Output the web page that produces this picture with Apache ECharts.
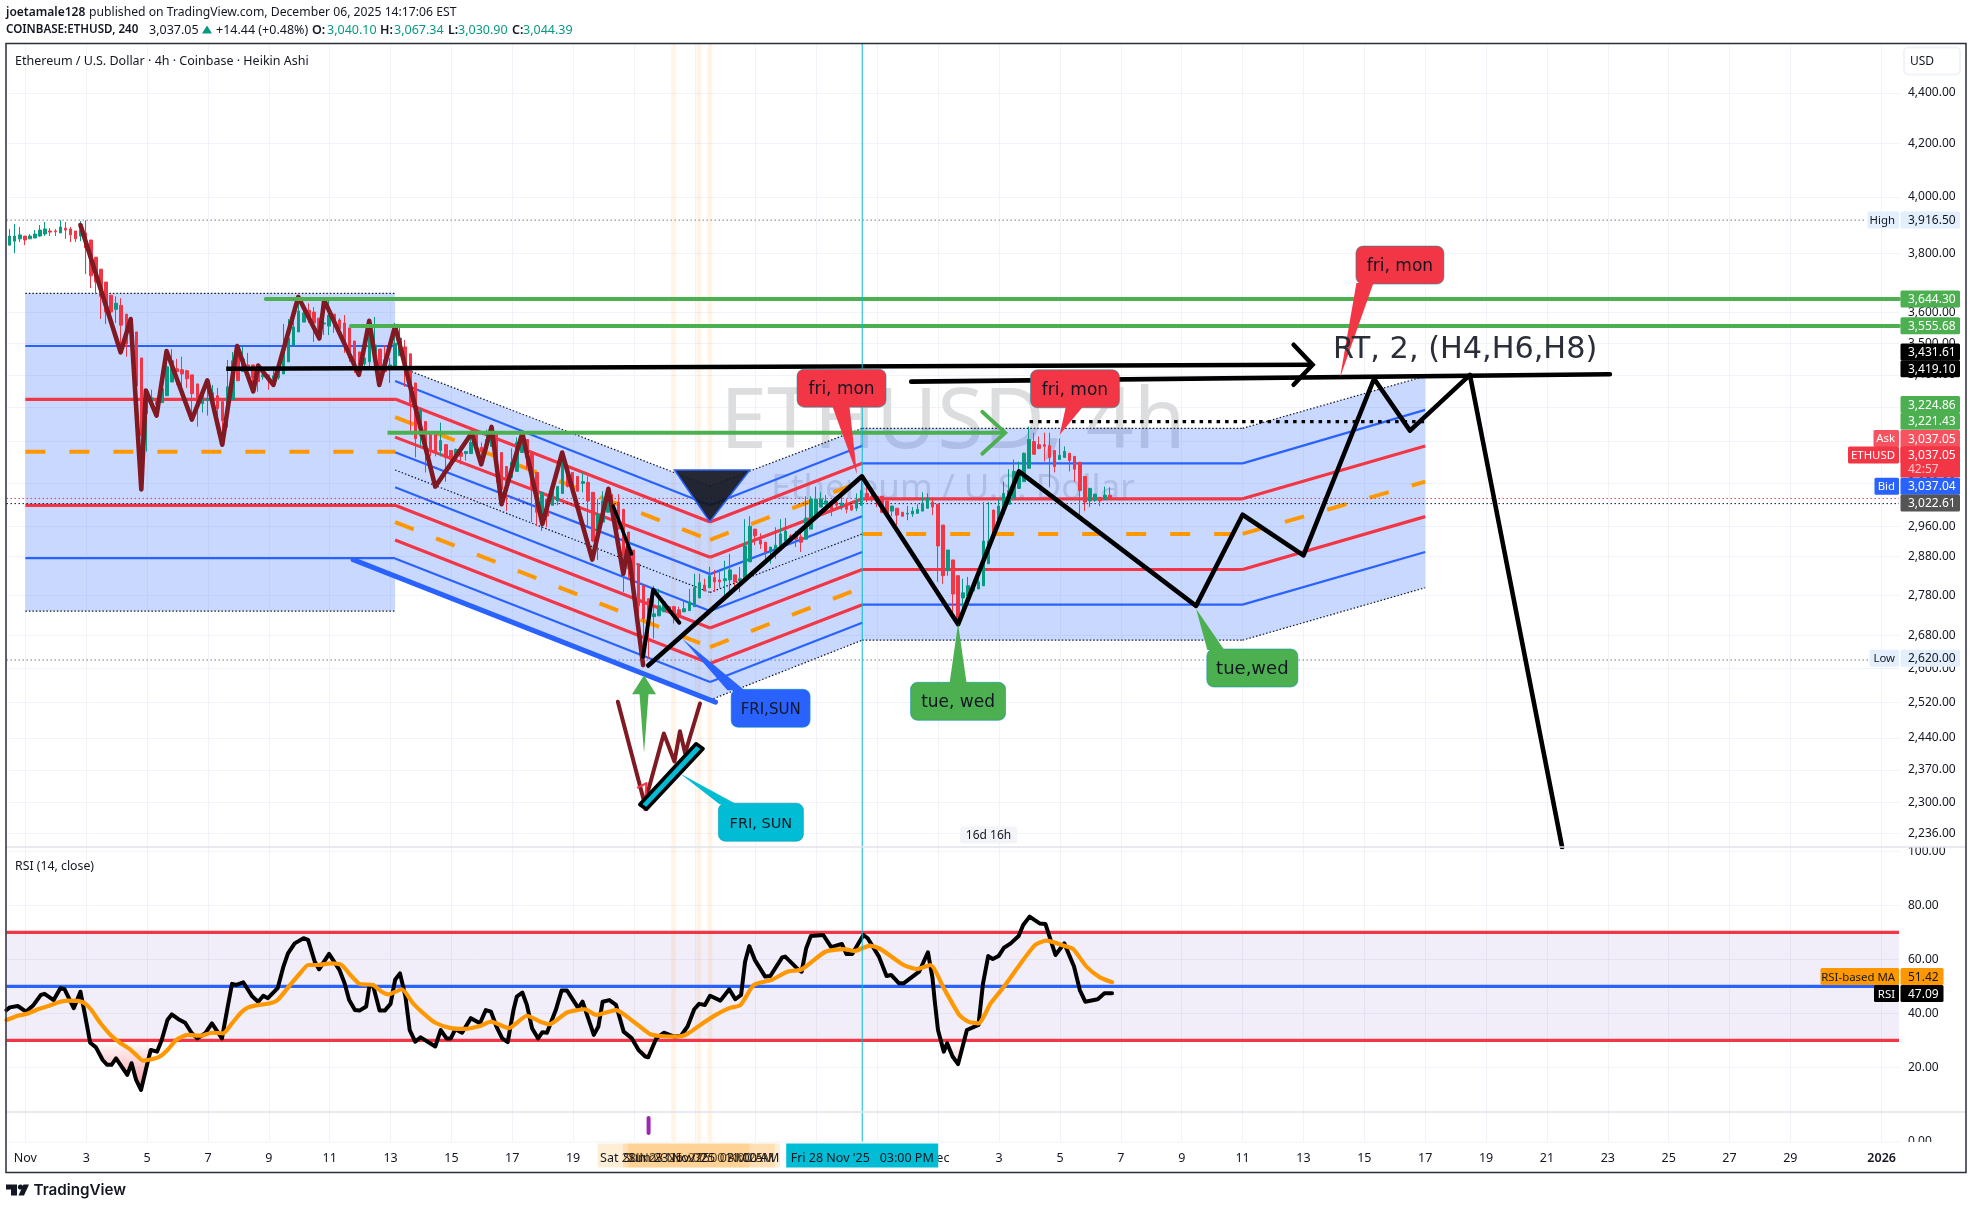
<!DOCTYPE html>
<html>
<head>
<meta charset="utf-8">
<title>ETHUSD 4h</title>
<script src="https://cdn.jsdelivr.net/npm/echarts@6/dist/echarts.min.js"></script>
<style>
  html, body { margin: 0; padding: 0; background: #fff; }
  #chart { width: 1972px; height: 1208px; }
</style>
</head>
<body>
<div id="chart"></div>
<script>
// ---- candles (heikin ashi, one bar every 4h) ----
var firstBarDay = -0.517; // days since 1 Nov
var barOpen = [
  3828,3842,3850,3860,3850,3853,3860,3867,3878,3878,
  3871,3888,3885,3878,3860,3871,3846,3786,3745,3701,
  3657,3610,3623,3594,3520,3536,3453,3282,3306,3321,
  3315,3336,3378,3419,3416,3413,3400,3372,3312,3321,
  3321,3336,3318,3294,3324,3484,3410,3431,3431,3419,
  3394,3400,3388,3391,3403,3441,3494,3536,3568,3607,
  3601,3581,3562,3555,3594,3575,3565,3549,3507,3472,
  3434,3441,3469,3481,3447,3422,3425,3460,3488,3466,
  3375,3216,3258,3228,3228,3173,3190,3173,3156,3167,
  3164,3164,3219,3182,3176,3185,3222,3167,3127,3096,
  3113,3167,3205,3167,3110,2988,3035,3018,3030,3051,
  3130,3110,3099,3079,3082,3054,2948,2972,2999,3021,
  3027,3007,2945,2897,2861,2804,2771,2726,2728,2738,
  2751,2751,2743,2738,2741,2751,2773,2806,2799,2825,
  2819,2817,2819,2832,2817,2822,2866,2953,2924,2918,
  2892,2897,2908,2921,2935,2937,2932,2926,2953,2988,
  3013,3021,3027,3027,3016,3024,3018,3010,3018,3051,
  3043,3043,3043,3030,3002,3010,2999,2994,2994,2996,
  3002,3010,3027,3021,2964,2843,2871,2830,2773,2778,
  2791,2796,2804,2861,3005,2972,2994,3021,3037,3065,
  3084,3122,3199,3190,3190,3187,3173,3147,3153,3165,
  3156,3139,3099,3030,3032,3040,3035,3046
];
var barClose = [
  3860,3860,3864,3846,3860,3867,3881,3885,3874,3875,
  3892,3881,3864,3850,3881,3818,3722,3701,3653,3601,
  3601,3630,3558,3497,3549,3366,3216,3336,3330,3309,
  3357,3425,3444,3410,3403,3388,3342,3306,3339,3327,
  3345,3297,3261,3363,3444,3382,3450,3425,3391,3379,
  3400,3382,3397,3416,3481,3516,3552,3604,3598,3585,
  3565,3536,3565,3591,3565,3546,3494,3453,3431,3431,
  3453,3568,3494,3391,3410,3431,3500,3516,3425,3315,
  3207,3294,3190,3170,3170,3202,3153,3147,3176,3156,
  3170,3196,3182,3170,3205,3228,3139,3062,3070,3139,
  3196,3211,3153,3070,2999,3054,2988,3070,3070,3139,
  3070,3062,3057,3084,3030,2921,2994,3030,3062,2994,
  2953,2882,2848,2771,2753,2721,2704,2733,2753,2763,
  2738,2726,2728,2746,2763,2799,2812,2791,2830,2814,
  2814,2822,2845,2814,2822,2908,2961,2935,2913,2892,
  2905,2910,2940,2948,2932,2926,2918,2983,3035,3035,
  3035,3030,3007,3018,3024,3007,3005,3027,3059,3040,
  3037,3030,2999,2988,3016,2991,2988,2996,3002,3007,
  3024,3038,3013,2908,2830,2897,2783,2721,2786,2804,
  2809,2814,2921,2921,2935,3016,3051,3059,3113,3113,
  3165,3205,3162,3179,3185,3153,3127,3159,3170,3144,
  3119,3059,3027,3065,3049,3030,3046,3037
];
var barLow = [
  3828,3800,3839,3828,3850,3853,3857,3860,3860,3860,
  3871,3850,3839,3839,3842,3728,3681,3660,3578,3562,
  3585,3565,3494,3457,3472,3339,3059,3170,3306,3279,
  3315,3336,3378,3369,3363,3360,3282,3243,3285,3276,
  3300,3222,3190,3240,3324,3382,3410,3391,3348,3348,
  3385,3354,3366,3385,3403,3441,3494,3536,3568,3565,
  3504,3510,3526,3526,3533,3526,3469,3441,3406,3400,
  3425,3425,3431,3369,3406,3375,3425,3460,3363,3228,
  3153,3185,3110,3156,3156,3156,3084,3119,3153,3133,
  3144,3164,3182,3133,3176,3185,3082,3021,3002,3096,
  3113,3167,3119,2972,2961,2948,2958,3018,3018,3051,
  3068,3062,3057,3054,2961,2918,2871,2972,2999,2988,
  2953,2788,2822,2751,2728,2629,2624,2672,2728,2738,
  2738,2709,2709,2738,2741,2751,2773,2791,2799,2788,
  2799,2766,2788,2796,2788,2822,2866,2910,2900,2869,
  2861,2874,2908,2921,2918,2905,2892,2926,2953,2988,
  3013,3021,2988,3005,3005,2996,3002,3002,3018,3027,
  3027,3013,2996,2988,2988,2964,2988,2977,2986,2996,
  3002,3010,2991,2814,2809,2830,2733,2714,2741,2778,
  2791,2796,2804,2861,2935,2972,2994,3021,3037,3065,
  3084,3122,3162,3176,3141,3068,3110,3147,3153,3113,
  3084,2988,3002,3013,3027,3016,3035,3035
];
var barHigh = [
  3885,3903,3892,3860,3867,3881,3899,3910,3888,3885,
  3916,3910,3892,3878,3913,3916,3846,3786,3745,3701,
  3657,3653,3647,3594,3585,3536,3453,3354,3354,3321,
  3400,3463,3481,3450,3457,3416,3400,3372,3339,3369,
  3369,3360,3318,3447,3472,3484,3488,3469,3431,3431,
  3416,3400,3425,3431,3562,3578,3607,3657,3630,3630,
  3617,3581,3633,3647,3594,3581,3591,3549,3507,3472,
  3453,3575,3585,3481,3494,3453,3565,3549,3510,3466,
  3375,3294,3258,3228,3228,3255,3190,3173,3179,3167,
  3170,3228,3228,3196,3234,3243,3222,3167,3127,3179,
  3211,3234,3205,3167,3110,3054,3035,3070,3070,3167,
  3130,3110,3099,3110,3099,3054,3035,3057,3062,3049,
  3049,3007,2945,2897,2861,2804,2771,2804,2796,2763,
  2751,2753,2751,2766,2796,2835,2835,2822,2853,2845,
  2845,2869,2887,2832,2853,2980,2988,2953,2942,2918,
  2905,2958,2980,2983,2940,2948,2956,3043,3043,3070,
  3054,3046,3027,3040,3043,3035,3018,3051,3099,3076,
  3068,3043,3043,3030,3016,3010,2999,3016,3013,3021,
  3054,3051,3040,3021,2964,2897,2871,2830,2822,2827,
  2809,2827,3027,3027,3005,3035,3084,3119,3147,3141,
  3167,3243,3225,3214,3225,3225,3173,3208,3185,3165,
  3156,3139,3099,3065,3049,3040,3070,3068
];

// ---- axes ----
var xMin = -0.62, xMax = 61.57;
var xTickDays = [0,2,4,6,8,10,12,14,16,18,20,22,24,26,28,30,32,34,36,38,40,42,44,46,48,50,52,54,56,58,61];
var xTickLabels = ['Nov','3','5','7','9','11','13','15','17','19','21','23','25','27','29','Dec','3','5','7','9','11','13','15','17','19','21','23','25','27','29','2026'];
var priceTicks = [4400,4200,4000,3800,3600,3500,3400,3300,3200,3080,2960,2880,2780,2680,2600,2520,2440,2370,2300,2236];
var rsiTicks = [0,20,40,60,80,100];

// ---- price levels ----
var highPrice = 3916.5, highLineEnd = 60.5;
var lowPrice = 2620, lowLineEnd = 60.6;
var lastPrice = 3037.05, prevClose = 3022.61;
var greenLevel1 = 3644.30, greenLevel1Day = 7.9;
var greenLevel2 = 3555.68, greenLevel2Day = 10.7;

// ---- fib channel drawing ----
var rectDays = [0, 12.15];
var rectLevels = [3663,3491,3325,3169,3018,2876,2740];
var fallDays = [12.15, 22.5];
var fallStart = [3430,3381,3326,3271,3212,3168,3117,3068,3018,2972,2924,2875,2832];
var fallEnd = [3071,3018,2972,2924,2878,2834,2787,2740,2698,2651,2612,2568,2526];
var riseDays = [22.5, 27.5];
var riseEnd = [3238,3187,3136,3085,3036,2988,2940,2892,2846,2800,2756,2711,2668];
var flatDays = [27.5, 40];
var flatLevels = [3238,3136,3036,2940,2846,2756,2668];
var rise2Days = [40, 46];
var rise2End = [3396,3293,3186,3084,2987,2892,2799];

// ---- hand drawn lines ----
var zigDays = [1.81,3.13,3.46,3.81,3.96,4.31,4.64,5.47,5.98,6.47,6.96,7.49,7.65,8.15,8.97,9.66,9.82,10.96,11.3,11.63,12.15,13.47,14.67,14.98,15.32,15.65,16.33,16.99,17.64,18.63,19.16,19.65,19.8,20.3];
var zigPrices = [3899,3471,3578,3062,3352,3276,3475,3264,3383,3190,3491,3349,3429,3369,3651,3515,3640,3400,3572,3369,3555,3070,3224,3133,3242,3021,3224,2967,3167,2872,3064,2835,2905,2608];
var miniDays = [19.47,20.35,20.98,21.33,21.51,21.68,22.17];
var miniPrices = [2522,2298,2450,2388,2455,2406,2518];
var hookDays = [20.13,20.41,20.35];
var hookPrices = [2332,2341,2284];
var blackDays = [20.47,27.49,30.65,32.65,38.47,40,42,44.32,45.5,47.47,50.5];
var blackPrices = [2607,3099,2707,3113,2753,2992,2883,3388,3231,3400,2208];
var shortDays = [20.3,20.63,21.49];
var shortPrices = [2628,2794,2711];
var shortBDays = [19.32,19.92];
var shortBPrices = [3016,2887];
var trendDays = [10.77,22.68];
var trendPrices = [2872,2521];
var ceilingDays = [29.11,52.07];
var ceilingPrices = [3379,3402];
var dottedDays = [33,46];
var dottedPrices = [3258,3258];
var arrowStartDays = [6.6,11.9];
var arrowStartPrices = [3419.1,3224.86];
var arrowEndDays = [42.3,32.2];
var arrowEndPrices = [3431.61,3224.86];
var triangleDays = [21.33,23.81,22.49];
var trianglePrices = [3117,3117,2973];
var cyanBoxDays = [20.41,20.19,22.04,22.27];
var cyanBoxPrices = [2286,2296,2427,2416];
var upArrowDay = 20.33, upArrowTip = 2584, upArrowTail = 2406;

// ---- callouts ----
var calloutTexts = ['fri, mon','fri, mon','fri, mon','tue, wed','tue,wed','FRI,SUN','FRI, SUN'];
var calloutDays = [26.82,34.49,45.17,30.65,40.32,24.49,24.17];
var calloutPrices = [3359,3357,3759,2523,2601,2507,2259];
var calloutTipDays = [27.33,33.99,43.2,30.65,38.47,21.58,21.51];
var calloutTipPrices = [3104,3219,3391,2709,2746,2672,2362];
var calloutBaseDays = [26.8,34.47,44.02,30.65,39.12,23.35,23.09];

// ---- RSI pane ----
var rsiDays = [-0.62,-0.51,-0.25,0.02,0.27,0.51,0.63,0.93,1.15,1.29,1.59,1.81,1.95,2.13,2.32,2.54,2.69,2.83,2.98,3.35,3.49,3.64,3.8,4.01,4.12,4.33,4.48,4.67,4.81,5.03,5.25,5.47,5.65,5.91,6.13,6.46,6.65,6.79,6.94,7.16,7.46,7.65,7.82,7.97,8.29,8.48,8.63,8.85,9.14,9.29,9.51,9.65,9.98,10.32,10.49,10.64,10.83,10.98,11.2,11.31,11.42,11.64,11.81,12,12.15,12.31,12.49,12.63,12.81,12.99,13.47,13.65,13.84,13.98,14.13,14.35,14.64,14.94,15.13,15.3,15.48,15.67,15.85,16.04,16.15,16.33,16.48,16.65,16.85,16.99,17.14,17.43,17.62,17.8,18.17,18.31,18.68,18.83,18.97,19.19,19.41,19.66,19.93,20.15,20.37,20.47,20.73,20.98,21.32,21.54,21.76,21.98,22.14,22.33,22.5,22.84,23.13,23.33,23.52,23.65,23.79,23.97,24.31,24.48,24.87,24.97,25.41,25.51,25.66,25.81,26.22,26.48,26.83,26.98,27.17,27.54,27.68,28.05,28.3,28.45,28.71,28.86,29.37,29.66,29.81,29.88,29.99,30.18,30.29,30.47,30.65,30.94,31.32,31.47,31.64,31.79,31.98,32.16,32.38,32.64,32.79,33,33.33,33.52,33.85,34.14,34.46,34.65,34.83,35.24,35.46,35.71];
var rsiValues = [41.2,42.2,42.7,40.6,43.1,46.8,47.2,44.9,49.3,48.9,41.9,48,40,29.1,27.4,22.7,20.9,20.9,23.3,17.2,21.5,15.3,11.6,21.5,26.4,25.8,30.1,37.5,39.6,37.8,36.5,32.6,30.7,32.6,36.3,30.7,42.5,50.9,50.5,51.5,46.2,44.3,46.5,45.6,49.3,57.3,62.2,65.9,67.8,67.2,59.1,56.3,62,56.1,51.1,44.9,41.2,41,42.5,50.5,50.5,41,41,43.5,52.4,54.8,46.2,33.8,29.5,31.1,27.7,33.8,30.7,30.7,34.1,32.8,38.2,36.3,41.2,40.6,35.1,30.7,29.3,41.2,46.2,47.7,43.1,34.5,30.7,33,32.8,41.2,48.4,48.4,41.9,44.3,32,35.1,44.3,44.9,43.1,33.2,30.7,26.4,24,23.7,30.7,32.8,31.4,31.6,35.1,41.5,43.5,43.1,46.5,44.7,48.9,45.2,46.8,59.1,64.9,59.8,53.6,53.8,60.7,61,56.1,55.4,64.1,68.6,69,64.5,65.7,62,62,69,67.8,61,53.8,54.2,51.1,51.1,55.4,62.6,53,44.9,33.8,25.8,28.9,24,21.2,33.8,35.7,51.1,61.2,60.1,61.2,64.3,65.9,68.6,72.7,75.8,73.3,73.1,61.6,65.9,57.3,48.6,44.3,45.2,47.4,47.4];
var maDays = [-0.62,-0.25,0.05,0.41,0.78,1.07,1.37,1.73,1.95,2.17,2.47,2.8,3.13,3.42,3.64,3.86,4.15,4.42,4.67,4.96,5.33,5.77,6.13,6.5,6.79,7.09,7.31,7.67,8.04,8.29,8.7,9.07,9.29,9.65,10.02,10.39,10.68,10.98,11.42,11.71,11.93,12.37,12.74,13.1,13.47,13.98,14.42,14.94,15.3,15.89,16.48,16.92,17.24,17.8,18.39,18.75,19.41,19.99,20.51,20.88,21.47,21.76,22.18,22.69,23.13,23.5,23.94,24.53,25.04,25.51,26.29,26.88,27.24,27.76,28.12,28.86,29.3,29.74,30.18,30.69,30.98,31.32,31.72,32.16,32.67,33.18,33.55,34.14,34.43,34.87,35.31,35.71];
var maValues = [37.5,39.1,39.8,41.5,42.8,44,44.7,44.6,43.7,41.2,36.3,32,28.9,26.8,24.6,22.5,23,24,26.4,30.1,32,31.7,32.8,32.6,36.3,40.3,42.1,43.1,43.7,44.9,50.5,55.4,57.9,57.9,58.5,57.9,54.2,50.9,50.5,48,47,48.9,43.7,39.8,36.5,34.5,34.2,35.3,36.9,34.5,39.1,36.9,36,40.3,41.5,39.4,41.2,36.9,32.4,31.6,31.4,32.4,35.7,39.4,41.9,43.1,50.5,52.4,55.4,56.3,62.8,63.8,63.1,65.1,63.7,57.9,56.4,57.9,49.3,39.4,36.9,36.3,43.7,49.9,57.9,65.3,66.9,65,63.8,57.3,53.3,51.5];
var rsiUpper = 70, rsiMiddle = 50, rsiLower = 30;

// ---- marks on the time axis ----
var highlightDays = [21.3, 22.13, 22.5];
var crosshairDay = 27.5;
var purpleDay = 20.48;
var dateTagDays = [21.3, 22.13, 22.3, 27.5];
var dateTagTexts = ["Sat 22 Nov '25   07:00 AM", "Sun 23 Nov '25   03:00 AM", "Sun 23 Nov '25   11:00 AM", "Fri 28 Nov '25   03:00 PM"];

// ---- price scale tags: [name, value text, place on the scale] ----
var tagNames = ['High','','','','','','','Ask','ETHUSD','Bid','','Low'];
var tagValues = ['3,916.50','3,644.30','3,555.68','3,431.61','3,419.10','3,224.86','3,221.43','3,037.05','3,037.05','3,037.04','3,022.61','2,620.00'];
var tagPlaces = [3917,3644,3556,3472,3419,3309,3259,3208,3160,3071,3024,2624];
var rsiTagNames = ['RSI-based MA','RSI'];
var rsiTagValues = ['51.42','47.09'];
var rsiTagPlaces = [53.6,47.3];

// ---- styles ----
var GREEN = '#089981', RED = '#f23645', BLUE = '#2962ff', ORANGE = '#ff9800', TEXT = '#131722', DKRED = '#801922', LGREEN = '#4caf50', CYAN = '#00bcd4';
var UI = '"Noto Sans", sans-serif', CALL = '"DejaVu Sans", sans-serif';
var GRIDC = '#f0f3fa';
var tagColors = ['#e3effd',LGREEN,LGREEN,'#000','#000',LGREEN,LGREEN,'#f7525f',RED,BLUE,'#555',  '#e3effd'];
var tagTextColors = [TEXT,'#fff','#fff','#fff','#fff','#fff','#fff','#fff','#fff','#fff','#fff',TEXT];
var tagNameWidths = [31.5,0,0,0,0,0,0,25.5,51,24.5,0,29.5];
var calloutColors = [RED,RED,RED,LGREEN,LGREEN,BLUE,CYAN];
var calloutWidths = [89,89,88,95,91,79,85];
var calloutFonts = [17,17,17,17,18,15,14.5];

var chart = echarts.init(document.getElementById('chart'));

function zip(xs, ys) { return xs.map(function (x, i) { return [x, ys[i]]; }); }

function lineSeries(days, values, color, width, opts) {
  opts = opts || {};
  return {
    type: 'line', xAxisIndex: opts.pane || 0, yAxisIndex: opts.pane || 0,
    data: zip(days, values), symbol: 'none', silent: true, animation: false,
    smooth: opts.smooth || false, clip: true, z: opts.z || 6,
    lineStyle: { color: color, width: width, type: opts.dash || 'solid', cap: opts.cap || 'round', join: 'round' }
  };
}

// one polyline series holding many separate pieces
var fibPieces = { dot: [], blue: [], red: [], orange: [] };
var kinds7 = ['dot','blue','red','orange','red','blue','dot'];
var kinds13 = ['dot','blue','red','orange','red','blue','dot','blue','red','orange','red','blue','dot'];
function addPiece(kind, d0, p0, d1, p1) {
  fibPieces[kind].push([d0, p0], [d1, p1], [d1, null]);
}
kinds7.forEach(function (k, i) {
  addPiece(k, rectDays[0], rectLevels[i], rectDays[1], rectLevels[i]);
  addPiece(k, flatDays[0], flatLevels[i], flatDays[1], flatLevels[i]);
  addPiece(k, rise2Days[0], flatLevels[i], rise2Days[1], rise2End[i]);
});
kinds13.forEach(function (k, i) {
  addPiece(k, fallDays[0], fallStart[i], fallDays[1], fallEnd[i]);
  addPiece(k, riseDays[0], fallEnd[i], riseDays[1], riseEnd[i]);
});
var fibStyle = {
  dot: { color: '#131722', width: 1.2, type: [1.5, 2] },
  blue: { color: BLUE, width: 2.2, type: 'solid' },
  red: { color: RED, width: 3.2, type: 'solid' },
  orange: { color: ORANGE, width: 4, type: [20, 24] }
};
var fibSeries = Object.keys(fibPieces).map(function (k) {
  return {
    type: 'line', data: fibPieces[k], symbol: 'none', silent: true, animation: false, clip: true, z: 3,
    lineStyle: Object.assign({ cap: 'butt' }, fibStyle[k])
  };
});

// shaded body of the channel
var fillRows = [
  [rectDays[0], rectLevels[0], rectLevels[6], rectDays[1], rectLevels[0], rectLevels[6]],
  [fallDays[0], fallStart[0], fallStart[12], fallDays[1], fallEnd[0], fallEnd[12]],
  [riseDays[0], fallEnd[0], fallEnd[12], riseDays[1], riseEnd[0], riseEnd[12]],
  [flatDays[0], flatLevels[0], flatLevels[6], flatDays[1], flatLevels[0], flatLevels[6]],
  [rise2Days[0], flatLevels[0], flatLevels[6], rise2Days[1], rise2End[0], rise2End[6]]
];
var fibFill = {
  type: 'custom', silent: true, animation: false, clip: true, z: 2, data: fillRows,
  encode: { x: [0, 3], y: [1, 2, 4, 5] },
  renderItem: function (params, api) {
    var r = fillRows[params.dataIndex];
    return { type: 'polygon', shape: { points: [api.coord([r[0], r[1]]), api.coord([r[3], r[4]]), api.coord([r[3], r[5]]), api.coord([r[0], r[2]])] }, style: { fill: 'rgba(41,98,255,0.25)' } };
  }
};

function polygonSeries(days, prices, style, z) {
  return {
    type: 'custom', silent: true, animation: false, clip: true, z: z, data: [[days[0], prices[0]]],
    renderItem: function (params, api) {
      return { type: 'polygon', shape: { points: days.map(function (d, i) { return api.coord([d, prices[i]]); }) }, style: style };
    }
  };
}

// vertical stripes running through one pane
function stripeSeries(pane, days, width, color, z) {
  var ext = pane === 0 ? [2209, 4600] : pane === 1 ? [3.44, 101.6] : [0, 1];
  return {
    type: 'custom', silent: true, animation: false, clip: true, z: z, xAxisIndex: pane, yAxisIndex: pane,
    data: days.map(function (d) { return [d, ext[0]]; }),
    renderItem: function (params, api) {
      var a = api.coord([days[params.dataIndex], ext[0]]), b = api.coord([days[params.dataIndex], ext[1]]);
      return { type: 'rect', shape: { x: a[0] - width / 2, y: b[1], width: width, height: a[1] - b[1] }, style: { fill: color } };
    }
  };
}

var arrowSeries = {
  type: 'custom', silent: true, animation: false, clip: false, z: 7, data: zip(arrowStartDays, arrowStartPrices),
  renderItem: function (params, api) {
    var i = params.dataIndex, a = api.coord([arrowStartDays[i], arrowStartPrices[i]]), b = api.coord([arrowEndDays[i], arrowEndPrices[i]]);
    var col = i === 0 ? '#000' : LGREEN, back = i === 0 ? 19 : 23, spread = i === 0 ? 20 : 21, w = i === 0 ? 4.5 : 3.8;
    return { type: 'group', children: [
      { type: 'line', shape: { x1: a[0], y1: a[1], x2: b[0], y2: b[1] }, style: { stroke: col, lineWidth: w } },
      { type: 'polyline', shape: { points: [[b[0] - back, b[1] - spread], b, [b[0] - back, b[1] + spread]] }, style: { stroke: col, lineWidth: w, fill: null, lineCap: 'round' } }
    ] };
  }
};

var upArrow = {
  type: 'custom', silent: true, animation: false, clip: false, z: 7, data: [[upArrowDay, upArrowTip]],
  renderItem: function (params, api) {
    var t = api.coord([upArrowDay, upArrowTip]), b = api.coord([upArrowDay, upArrowTail]);
    return { type: 'polygon', shape: { points: [t, [t[0] + 12, t[1] + 19], [t[0] + 4.5, t[1] + 19], b, [t[0] - 4.5, t[1] + 19], [t[0] - 12, t[1] + 19]] }, style: { fill: LGREEN } };
  }
};

var callouts = {
  type: 'custom', silent: true, animation: false, clip: false, z: 8, data: zip(calloutDays, calloutPrices),
  renderItem: function (params, api) {
    var i = params.dataIndex, c = api.coord([calloutDays[i], calloutPrices[i]]), t = api.coord([calloutTipDays[i], calloutTipPrices[i]]);
    var base = api.coord([calloutBaseDays[i], calloutPrices[i]])[0], w = calloutWidths[i], h = 38;
    var edge = t[1] < c[1] ? c[1] - h / 2 + 1 : c[1] + h / 2 - 1, col = calloutColors[i];
    return { type: 'group', children: [
      { type: 'rect', shape: { x: c[0] - w / 2, y: c[1] - h / 2, width: w, height: h, r: 7 }, style: { fill: col, stroke: 'rgba(0,150,170,0.55)', lineWidth: 1 } },
      { type: 'polygon', shape: { points: [t, [base - 8.5, edge], [base + 8.5, edge]] }, style: { fill: col } },
      { type: 'text', style: { text: calloutTexts[i], x: c[0], y: c[1] + 1.5, align: 'center', verticalAlign: 'middle', fill: '#131722', font: calloutFonts[i] + 'px ' + CALL } }
    ] };
  }
};

function tagChildren(x, y, h, cellW, nameW, name, value, bg, fg) {
  var kids = [
    { type: 'rect', shape: { x: x + 1.5, y: y - h / 2, width: cellW, height: h, r: 1.5 }, style: { fill: bg } },
    { type: 'text', style: { text: value, x: x + 9, y: y + 0.7, verticalAlign: 'middle', fill: fg, font: '12px ' + UI } }
  ];
  if (name) {
    kids.push({ type: 'rect', shape: { x: x - nameW, y: y - h / 2, width: nameW, height: h, r: 1.5 }, style: { fill: bg } });
    kids.push({ type: 'text', style: { text: name, x: x - 4, y: y + 0.7, align: 'right', verticalAlign: 'middle', fill: fg, font: '11.4px ' + UI } });
  }
  return kids;
}
var priceTags = {
  type: 'custom', silent: true, animation: false, clip: false, z: 50, data: tagPlaces.map(function (p) { return [xMax, p]; }),
  renderItem: function (params, api) {
    var i = params.dataIndex, p = api.coord([xMax, tagPlaces[i]]);
    var kids = tagChildren(p[0], p[1], 17, 59.5, tagNameWidths[i], tagNames[i], tagValues[i], tagColors[i], tagTextColors[i]);
    if (tagNames[i] === 'ETHUSD') {
      kids.unshift({ type: 'rect', shape: { x: p[0] + 1.5, y: p[1] - 8.5, width: 59.5, height: 31 }, style: { fill: RED } });
      kids.push({ type: 'text', style: { text: '42:57', x: p[0] + 9, y: p[1] + 15, verticalAlign: 'middle', fill: '#ffc9cd', font: '12px ' + UI } });
    }
    return { type: 'group', children: kids };
  }
};
var rsiTags = {
  type: 'custom', silent: true, animation: false, clip: false, z: 50, xAxisIndex: 1, yAxisIndex: 1, data: rsiTagPlaces.map(function (p) { return [xMax, p]; }),
  renderItem: function (params, api) {
    var i = params.dataIndex, p = api.coord([xMax, rsiTagPlaces[i]]);
    return { type: 'group', children: i === 0
      ? tagChildren(p[0], p[1], 17, 43, 78.5, rsiTagNames[i], rsiTagValues[i], ORANGE, '#131722')
      : tagChildren(p[0], p[1], 17, 43, 25, rsiTagNames[i], rsiTagValues[i], '#000', '#fff') };
  }
};
var dateTags = {
  type: 'custom', silent: true, animation: false, clip: false, z: 40, xAxisIndex: 2, yAxisIndex: 2, data: dateTagDays.map(function (d) { return [d, 0]; }),
  renderItem: function (params, api) {
    var i = params.dataIndex, p = api.coord([dateTagDays[i], 0]), last = i === dateTagDays.length - 1;
    return { type: 'group', children: [
      { type: 'rect', shape: { x: p[0] - 76, y: p[1] + 1.5, width: 152, height: 24 }, style: { fill: last ? CYAN : 'rgba(255,152,0,0.16)' } },
      { type: 'text', style: { text: dateTagTexts[i], x: p[0], y: p[1] + 16, align: 'center', verticalAlign: 'middle', fill: TEXT, font: '12.5px ' + UI } }
    ] };
  }
};

var rsiBand = {
  type: 'custom', silent: true, animation: false, clip: true, z: 1, xAxisIndex: 1, yAxisIndex: 1, data: [[xMin, rsiUpper]],
  renderItem: function (params, api) {
    var a = api.coord([xMin, rsiUpper]), b = api.coord([xMax, rsiLower]);
    return { type: 'rect', shape: { x: a[0], y: a[1], width: b[0] - a[0], height: b[1] - a[1] }, style: { fill: 'rgba(126,87,194,0.1)' } };
  }
};

// gradient fill where the RSI leaves the band
function rsiExcess(level, isAbove, fade, color) {
  return {
    type: 'custom', silent: true, animation: false, clip: true, z: 4, xAxisIndex: 1, yAxisIndex: 1, data: [[xMin, level]],
    renderItem: function (params, api) {
      var kids = [], run = null;
      var out = function (v) { return isAbove ? v > level : v < level; };
      var y0 = api.coord([0, level])[1], y1 = api.coord([0, fade])[1];
      var grad = new echarts.graphic.LinearGradient(0, y0, 0, y1, [{ offset: 0, color: color + '0)' }, { offset: 1, color: color + '0.5)' }], true);
      for (var i = 0; i < rsiDays.length; i++) {
        var v = rsiValues[i];
        if (out(v)) {
          if (!run) {
            var f = i ? (level - rsiValues[i - 1]) / (v - rsiValues[i - 1]) : 0;
            run = [api.coord([rsiDays[i - 1] + f * (rsiDays[i] - rsiDays[i - 1]), level])];
          }
          run.push(api.coord([rsiDays[i], v]));
        } else if (run) {
          var g = (level - rsiValues[i - 1]) / (v - rsiValues[i - 1]);
          run.push(api.coord([rsiDays[i - 1] + g * (rsiDays[i] - rsiDays[i - 1]), level]));
          kids.push({ type: 'polygon', shape: { points: run }, style: { fill: grad } });
          run = null;
        }
      }
      return { type: 'group', children: kids };
    }
  };
}

var candles = {
  type: 'candlestick', silent: true, animation: false, clip: true, z: 4, barWidth: 3,
  encode: { x: 0, y: [1, 2, 3, 4] },
  data: barOpen.map(function (o, i) { return [firstBarDay + i / 6, o, barClose[i], barLow[i], barHigh[i]]; }),
  itemStyle: { color: GREEN, color0: RED, borderColor: GREEN, borderColor0: RED, borderWidth: 1 }
};

function fmtPrice(v) { return v.toLocaleString('en-US', { minimumFractionDigits: 2, maximumFractionDigits: 2 }); }

function xAxisFor(pane) {
  return {
    type: 'value', gridIndex: pane, min: xMin, max: xMax,
    axisLine: { show: false },
    axisTick: { show: false, customValues: xTickDays },
    splitLine: { show: true, lineStyle: { color: GRIDC, width: 1 } },
    axisLabel: pane < 2 ? { show: false } : {
      show: true, customValues: xTickDays, margin: 10, color: TEXT, fontFamily: UI, fontSize: 12.5,
      hideOverlap: false, showMinLabel: true, showMaxLabel: true,
      formatter: function (v) {
        var t = xTickLabels[xTickDays.indexOf(v)];
        return t === '2026' ? '{b|2026}' : t;
      },
      rich: { b: { fontWeight: 600, color: TEXT, fontFamily: UI, fontSize: 12.5 } }
    }
  };
}

var option = {
  backgroundColor: '#fff',
  animation: false,
  grid: [
    { left: 6.5, right: 73, top: 44, height: 803 },
    { left: 6.5, right: 73, top: 847, height: 265 },
    { left: 6.5, right: 73, top: 1112, height: 30 }
  ],
  xAxis: [xAxisFor(0), xAxisFor(1), xAxisFor(2)],
  yAxis: [
    {
      type: 'log', logBase: 10, gridIndex: 0, position: 'right', min: 2208.5, max: 4600.5,
      axisLine: { show: false }, axisTick: { show: false, customValues: priceTicks },
      splitLine: { show: true, lineStyle: { color: GRIDC, width: 1 } },
      axisLabel: { customValues: priceTicks, margin: 9, color: TEXT, fontFamily: UI, fontSize: 12, align: 'left', hideOverlap: false, formatter: function (v) { return fmtPrice(v); } }
    },
    {
      type: 'value', gridIndex: 1, position: 'right', min: 3.44, max: 101.6,
      axisLine: { show: false }, axisTick: { show: false, customValues: rsiTicks },
      splitLine: { show: true, lineStyle: { color: GRIDC, width: 1 } },
      axisLabel: { customValues: rsiTicks, margin: 9, color: TEXT, fontFamily: UI, fontSize: 12, align: 'left', hideOverlap: false, formatter: function (v) { return v.toFixed(2); } }
    },
    {
      type: 'value', gridIndex: 2, position: 'right', min: 0, max: 1,
      axisLine: { show: false }, axisTick: { show: false, customValues: [0] },
      splitLine: { show: false },
      axisLabel: { customValues: [0], margin: 9, color: TEXT, fontFamily: UI, fontSize: 12, align: 'left', formatter: function (v) { return v.toFixed(2); } }
    }
  ],
  series: [
    stripeSeries(0, highlightDays, 4.5, 'rgba(255,152,0,0.1)', 1),
    stripeSeries(1, highlightDays, 4.5, 'rgba(255,152,0,0.1)', 1),
    stripeSeries(2, highlightDays, 4.5, 'rgba(255,152,0,0.1)', 1),
    fibFill
  ].concat(fibSeries).concat([
    lineSeries([xMin, highLineEnd], [highPrice, highPrice], '#787b86', 1, { dash: [1.5, 2.5], z: 2, cap: 'butt' }),
    lineSeries([xMin, lowLineEnd], [lowPrice, lowPrice], '#787b86', 1, { dash: [1.5, 2.5], z: 2, cap: 'butt' }),
    lineSeries([xMin, xMax], [lastPrice, lastPrice], RED, 1, { dash: [1.5, 2.5], z: 3, cap: 'butt' }),
    lineSeries([xMin, xMax], [prevClose, prevClose], '#131722', 1, { dash: [1.5, 2.5], z: 3, cap: 'butt' }),
    candles,
    lineSeries(zigDays, zigPrices, DKRED, 4.6, { z: 5 }),
    lineSeries(miniDays, miniPrices, DKRED, 4),
    lineSeries(hookDays, hookPrices, RED, 2.2),
    lineSeries([greenLevel1Day, xMax], [greenLevel1, greenLevel1], LGREEN, 4),
    lineSeries([greenLevel2Day, xMax], [greenLevel2, greenLevel2], LGREEN, 4),
    lineSeries(trendDays, trendPrices, BLUE, 5),
    lineSeries(ceilingDays, ceilingPrices, '#000', 4.6),
    lineSeries(dottedDays, dottedPrices, '#000', 3.2, { dash: [3.5, 5], cap: 'butt' }),
    lineSeries(blackDays, blackPrices, '#000', 4.6, { z: 7 }),
    lineSeries(shortDays, shortPrices, '#000', 4, { z: 7 }),
    lineSeries(shortBDays, shortBPrices, '#000', 3.5, { z: 6 }),
    polygonSeries(triangleDays, trianglePrices, { fill: 'rgba(19,23,34,0.92)', stroke: BLUE, lineWidth: 1.5 }, 7),
    polygonSeries(cyanBoxDays, cyanBoxPrices, { fill: CYAN, stroke: '#000', lineWidth: 3.5, lineJoin: 'round' }, 7),
    arrowSeries, upArrow, callouts, priceTags,
    // RSI pane
    rsiBand,
    rsiExcess(rsiLower, false, 12, 'rgba(242,54,69,'),
    rsiExcess(rsiUpper, true, 95, 'rgba(8,153,129,'),
    lineSeries([xMin, xMax], [rsiUpper, rsiUpper], RED, 3.2, { pane: 1, z: 3, cap: 'butt' }),
    lineSeries([xMin, xMax], [rsiLower, rsiLower], RED, 3.2, { pane: 1, z: 3, cap: 'butt' }),
    lineSeries([xMin, xMax], [rsiMiddle, rsiMiddle], BLUE, 3.2, { pane: 1, z: 3, cap: 'butt' }),
    lineSeries(rsiDays, rsiValues, '#000', 4, { pane: 1, z: 5 }),
    lineSeries(maDays, maValues, ORANGE, 4.2, { pane: 1, z: 6, smooth: 0.2 }),
    rsiTags,
    lineSeries([purpleDay, purpleDay], [0.3, 0.8], '#9c27b0', 4, { pane: 2, z: 6 }),
    stripeSeries(0, [crosshairDay], 1, CYAN, 7),
    stripeSeries(1, [crosshairDay], 1, CYAN, 7),
    stripeSeries(2, [crosshairDay], 1, CYAN, 7),
    dateTags
  ]),
  graphic: { elements: [
    // watermark, behind every series
    { type: 'text', z: 1, style: { text: 'ETHUSD, 4h', x: 953, y: 424, align: 'center', verticalAlign: 'middle', fill: '#dcdddf', font: '84px ' + UI } },
    { type: 'text', z: 1, style: { text: 'Ethereum / U.S. Dollar', x: 953, y: 489, align: 'center', verticalAlign: 'middle', fill: '#dcdddf', font: '35px ' + UI } },
    // header
    { type: 'text', z: 100, style: { text: 'joetamale128', x: 6, y: 12.5, verticalAlign: 'middle', fill: TEXT, font: '600 12px ' + UI } },
    { type: 'text', z: 100, style: { text: 'published on TradingView.com, December 06, 2025 14:17:06 EST', x: 89, y: 12.5, verticalAlign: 'middle', fill: TEXT, font: '12.2px ' + UI } },
    { type: 'text', z: 100, style: { text: 'COINBASE:ETHUSD, 240', x: 6, y: 30, verticalAlign: 'middle', fill: TEXT, font: '600 11.6px ' + UI } },
    { type: 'text', z: 100, style: { text: '3,037.05', x: 149, y: 30, verticalAlign: 'middle', fill: TEXT, font: '12.5px ' + UI } },
    { type: 'polygon', z: 100, shape: { points: [[202, 33.5], [212, 33.5], [207, 25.5]] }, style: { fill: GREEN } },
    { type: 'text', z: 100, style: { text: '+14.44 (+0.48%)', x: 216, y: 30, verticalAlign: 'middle', fill: TEXT, font: '12.5px ' + UI } },
    { type: 'text', z: 100, style: { text: 'O:', x: 312, y: 30, verticalAlign: 'middle', fill: TEXT, font: '600 12.5px ' + UI } },
    { type: 'text', z: 100, style: { text: '3,040.10', x: 327, y: 30, verticalAlign: 'middle', fill: GREEN, font: '12.5px ' + UI } },
    { type: 'text', z: 100, style: { text: 'H:', x: 380, y: 30, verticalAlign: 'middle', fill: TEXT, font: '600 12.5px ' + UI } },
    { type: 'text', z: 100, style: { text: '3,067.34', x: 394, y: 30, verticalAlign: 'middle', fill: GREEN, font: '12.5px ' + UI } },
    { type: 'text', z: 100, style: { text: 'L:', x: 448, y: 30, verticalAlign: 'middle', fill: TEXT, font: '600 12.5px ' + UI } },
    { type: 'text', z: 100, style: { text: '3,030.90', x: 458, y: 30, verticalAlign: 'middle', fill: GREEN, font: '12.5px ' + UI } },
    { type: 'text', z: 100, style: { text: 'C:', x: 512, y: 30, verticalAlign: 'middle', fill: TEXT, font: '600 12.5px ' + UI } },
    { type: 'text', z: 100, style: { text: '3,044.39', x: 523, y: 30, verticalAlign: 'middle', fill: GREEN, font: '12.5px ' + UI } },
    // pane titles
    { type: 'text', z: 100, style: { text: 'Ethereum / U.S. Dollar · 4h · Coinbase · Heikin Ashi', x: 15, y: 61.5, verticalAlign: 'middle', fill: TEXT, font: '12.5px ' + UI } },
    { type: 'text', z: 100, style: { text: 'RSI (14, close)', x: 15, y: 866, verticalAlign: 'middle', fill: TEXT, font: '12.3px ' + UI } },
    { type: 'text', z: 100, style: { text: 'RT, 2, (H4,H6,H8)', x: 1333, y: 350, verticalAlign: 'middle', fill: '#2a2e39', font: '30.3px ' + CALL } },
    // USD box
    { type: 'rect', z: 100, shape: { x: 1904, y: 47.5, width: 56, height: 27, r: 4 }, style: { fill: '#fff', stroke: GRIDC, lineWidth: 2 } },
    { type: 'text', z: 101, style: { text: 'USD', x: 1910, y: 61.5, verticalAlign: 'middle', fill: TEXT, font: '12px ' + UI } },
    // duration label
    { type: 'rect', z: 100, shape: { x: 960, y: 826.5, width: 57, height: 17, r: 3 }, style: { fill: '#f3f4f8' } },
    { type: 'text', z: 101, style: { text: '16d 16h', x: 988.5, y: 835.5, align: 'center', verticalAlign: 'middle', fill: TEXT, font: '12px ' + UI } },
    // cut the half hidden scale labels at the pane edges
    { type: 'rect', z: 99, shape: { x: 1900, y: 841, width: 64, height: 6 }, style: { fill: '#fff' } },
    { type: 'rect', z: 99, shape: { x: 1900, y: 1142, width: 64, height: 12 }, style: { fill: '#fff' } },
    // pane dividers and frame
    { type: 'line', z: 101, shape: { x1: 6, y1: 847, x2: 1966, y2: 847 }, style: { stroke: '#e0e3eb', lineWidth: 1.5 } },
    { type: 'line', z: 101, shape: { x1: 6, y1: 1112, x2: 1966, y2: 1112 }, style: { stroke: '#e0e3eb', lineWidth: 1.5 } },
    { type: 'line', z: 101, shape: { x1: 6, y1: 1142, x2: 1899, y2: 1142 }, style: { stroke: '#f0f3fa', lineWidth: 1 } },
    { type: 'rect', z: 102, shape: { x: 6, y: 43.5, width: 1960, height: 1129 }, style: { fill: null, stroke: '#2a2e39', lineWidth: 1.5 } },
    // logo
    { type: 'polygon', z: 100, shape: { points: [[6, 1184.5], [17, 1184.5], [17, 1195.5], [11, 1195.5], [11, 1189.5], [6, 1189.5]] }, style: { fill: TEXT } },
    { type: 'circle', z: 100, shape: { cx: 20.5, cy: 1187, r: 2.6 }, style: { fill: TEXT } },
    { type: 'polygon', z: 100, shape: { points: [[23.5, 1184.5], [29, 1184.5], [24, 1195.5], [18.5, 1195.5]] }, style: { fill: TEXT } },
    { type: 'text', z: 100, style: { text: 'TradingView', x: 33.5, y: 1190.5, verticalAlign: 'middle', fill: TEXT, font: '600 15.2px Inter, ' + UI } }
  ] }
};

chart.setOption(option);
</script>
</body>
</html>
